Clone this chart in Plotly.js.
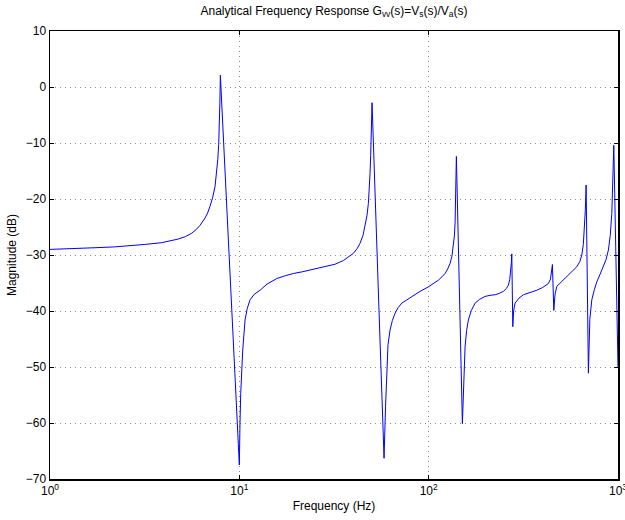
<!DOCTYPE html>
<html>
<head>
<meta charset="utf-8">
<script src="https://cdn.plot.ly/plotly-3.0.1.min.js"></script>
<style>html,body{margin:0;padding:0;background:#fff;}#chart{width:625px;height:520px;}</style>
</head>
<body>
<div id="chart"></div>
<script>
// Frequency (Hz)
const freqHz = [
  1.00, 1.3, 1.73, 2.2, 2.59, 3.2, 3.89, 4.4, 4.76, 5.2, 5.61, 5.9, 6.20, 6.59, 6.8, 7.00, 7.22, 7.44, 7.56, 7.69, 7.78, 7.84, 7.89, 7.94,
  8.90, 10.0,
  10.08, 10.17, 10.42, 10.72, 11.0, 11.39, 12.0, 12.87, 14.0, 15.76, 17.5, 19.29, 21.5, 23.63, 26.2, 28.95, 32.0, 35.43, 38.0, 40.02,
  42.0, 43.41, 45.0, 46.13, 47.2, 48.03, 48.6, 49.03, 49.4, 49.63, 49.95, 50.23,
  54.5, 58.13,
  59.2, 60.06, 61.0, 62.5, 64.3, 66.45, 69.0, 72.1, 76.5, 81.4, 90.0, 99.6, 106, 112.5, 117.5, 122.1, 126, 129.7, 132.7, 135.1,
  136.7, 137.9, 138.7, 139.2, 139.7, 140.1,
  150.7,
  152.8, 155.7, 158.6, 162.1, 168, 175.9, 186, 198.6, 211, 224.3, 236, 248.1, 257, 263.7, 268, 271.5, 273.5, 274.8,
  278.2,
  281, 286.0, 300, 316.4, 343, 372.4, 400, 428.9, 440, 446, 450.4,
  458.1,
  465, 475.1, 505, 536.5, 570, 605.8, 628, 644.0, 656, 664.6, 672, 678.5,
  697.7,
  710, 727.2, 750, 772.7, 805, 837.2, 865, 889.9, 910, 927.4, 940, 950.2,
  1000
];
// Magnitude (dB)
const magDb = [
  -29.0, -28.9, -28.7, -28.55, -28.4, -28.1, -27.8, -27.45, -27.15, -26.7, -26.1, -25.5, -24.7, -23.4, -22.5, -21.3, -19.8, -17.8, -15.8, -13.0, -10.3, -7.1, -3.0, 2.1,
  -32.3, -67.5,
  -60.0, -54.7, -47.0, -41.6, -39.6, -38.0, -37.0, -36.3, -35.2, -34.2, -33.7, -33.3, -33.0, -32.7, -32.4, -32.1, -31.65, -31.0, -30.3, -29.7,
  -28.8, -27.9, -26.5, -24.9, -23.0, -20.8, -18.3, -15.4, -12.2, -9.5, -6.0, -2.8,
  -38.6, -66.3,
  -57.0, -50.0, -46.0, -43.4, -41.7, -40.4, -39.4, -38.6, -38.0, -37.4, -36.5, -35.7, -35.1, -34.5, -33.9, -33.3, -32.5, -31.5, -30.2, -28.5,
  -26.6, -24.3, -21.5, -18.5, -15.3, -12.4,
  -60.1,
  -52.5, -46.4, -43.5, -41.6, -39.9, -38.6, -37.9, -37.4, -37.2, -37.1, -36.85, -36.5, -36.0, -35.4, -34.4, -32.7, -31.3, -29.8,
  -42.8,
  -40.0, -38.6, -37.7, -37.1, -36.7, -36.3, -35.8, -35.1, -34.3, -33.2, -31.7,
  -39.9,
  -37.0, -35.6, -34.7, -33.9, -33.0, -32.1, -31.2, -30.0, -28.1, -25.5, -22.0, -17.5,
  -51.1,
  -41.5, -38.0, -36.2, -34.8, -33.4, -32.1, -30.8, -29.1, -26.5, -22.6, -17.5, -10.4,
  -50.0
];
const xTickVals = [1, 10, 100, 1000];
const xTickText = ['10<sup>0</sup>', '10<sup>1</sup>', '10<sup>2</sup>', '10<sup>3</sup>'];
const yTickVals = [-70, -60, -50, -40, -30, -20, -10, 0, 10];

const fam = 'Liberation Sans, Arial, sans-serif';
const font = {family: fam, size: 12, color: '#000'};

const trace = {
  x: freqHz, y: magDb, type: 'scatter', mode: 'lines',
  line: {color: '#0000ff', width: 1},
  hoverinfo: 'skip'
};

const gridStyle = {showgrid: true, gridcolor: '#8a8a8a', griddash: '1px,4px', gridwidth: 1};

const layout = {
  width: 625, height: 520,
  margin: {l: 50, r: 7, t: 31, b: 41},
  paper_bgcolor: '#fff', plot_bgcolor: '#fff',
  font: font,
  showlegend: false,
  title: {
    text: 'Analytical Frequency Response G<sub>vv</sub>(s)=V<sub>s</sub>(s)/V<sub>a</sub>(s)',
    font: {family: fam, size: 12, color: '#000'},
    x: 0.5, xanchor: 'center', xref: 'paper', y: 0.988, yanchor: 'top'
  },
  xaxis: Object.assign({
    type: 'log', range: [0, 3],
    tickmode: 'array', tickvals: xTickVals, ticktext: xTickText,
    ticks: 'inside', ticklen: 4, tickwidth: 1, tickcolor: '#000',
    ticklabeloverflow: 'allow',
    showline: true, linecolor: '#000', linewidth: 1.5, mirror: 'allticks',
    zeroline: false,
    tickfont: {family: fam, size: 12, color: '#000'},
    title: {text: 'Frequency (Hz)', font: {family: fam, size: 12, color: '#000'}, standoff: 4}
  }, gridStyle),
  yaxis: Object.assign({
    range: [-70, 10],
    tickmode: 'array', tickvals: yTickVals,
    ticktext: yTickVals.map(v => v < 0 ? '\u2212' + Math.abs(v) : String(v)),
    ticks: 'inside', ticklen: 4, tickwidth: 1, tickcolor: '#000',
    showline: true, linecolor: '#000', linewidth: 1.5, mirror: 'allticks',
    zeroline: false,
    tickfont: {family: fam, size: 12, color: '#000'},
    title: {text: 'Magnitude (dB)', font: {family: fam, size: 12, color: '#000'}, standoff: 6}
  }, gridStyle)
};

Plotly.newPlot('chart', [trace], layout, {displayModeBar: false, staticPlot: true});
</script>
</body>
</html>
